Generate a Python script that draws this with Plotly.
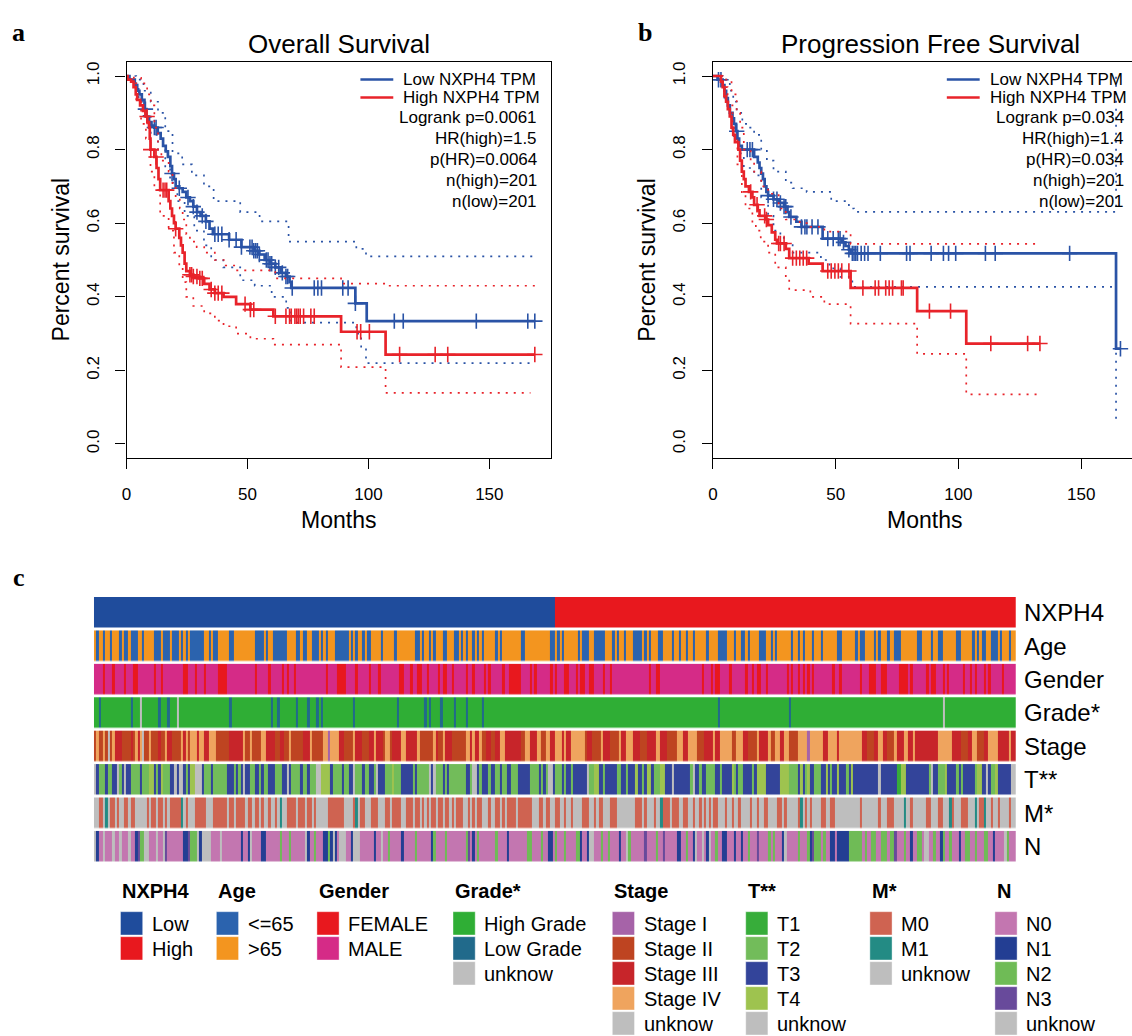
import plotly.graph_objects as go

# ---------------- Kaplan-Meier data ----------------
# Overall survival, low NXPH4 (blue)
os_low_time = [0, 1.2, 3.4, 4.4, 5.3, 6.3, 7.4, 8.2, 9.3, 10.3, 11.5, 12.9, 14.1, 15.1, 16.2, 17.1, 18.1, 18.8, 19.6, 20.3,
               21.8, 23.2, 24.7, 26.2, 27.6, 29.1, 30.6, 32.8, 34.3, 35.7, 42.4, 47.5, 52.6, 54.9, 57.1, 59.3, 61.5, 63.7, 65.9, 67.4,
               68.1, 94.6, 99.3]
os_low_surv = [1.0, 0.99, 0.975, 0.96, 0.95, 0.935, 0.91, 0.89, 0.875, 0.865, 0.86, 0.845, 0.83, 0.81, 0.795, 0.78, 0.755, 0.735, 0.72, 0.70,
               0.695, 0.685, 0.67, 0.66, 0.645, 0.63, 0.62, 0.605, 0.585, 0.57, 0.555, 0.535, 0.525, 0.515, 0.50, 0.49, 0.48, 0.465, 0.455, 0.44,
               0.424, 0.382, 0.334]
os_low_censor = [7.8, 11.5, 12.2, 18.8, 21.8, 25.4, 27.6, 29.1, 31.3, 32.8, 36.5, 37.9, 39.4, 42.4, 45.3, 47.5, 51.0, 51.9, 52.6, 53.4,
                 54.1, 54.9, 57.8, 58.5, 59.3, 60.0, 61.5, 62.9, 64.4, 65.9, 66.6, 68.5, 77.6, 79.1, 80.6, 89.4, 91.6, 94.6, 110.7, 114.4,
                 144.6, 165.9, 168.8]
os_low_upper_time = [0, 4, 7, 10, 13, 16, 19, 23, 27, 32, 36, 47, 55, 67, 95, 99]
os_low_upper_surv = [1.0, 0.99, 0.96, 0.93, 0.90, 0.85, 0.79, 0.76, 0.73, 0.70, 0.66, 0.63, 0.605, 0.55, 0.53, 0.51]
os_low_lower_time = [0, 2, 5, 7, 10, 13, 16, 18, 21, 24, 28, 32, 35, 40, 47, 53, 60, 66, 68, 95, 97, 99]
os_low_lower_surv = [1.0, 0.98, 0.93, 0.89, 0.84, 0.80, 0.75, 0.71, 0.66, 0.62, 0.58, 0.54, 0.50, 0.48, 0.445, 0.43, 0.40, 0.37, 0.33, 0.30, 0.26, 0.22]

# Overall survival, high NXPH4 (red)
os_high_time = [0, 0.4, 1.9, 2.9, 3.8, 4.4, 5.6, 6.8, 7.8, 8.6, 9.3, 9.6, 9.9, 11.5, 12.4, 13.2, 13.9, 17.4, 18.1, 18.8,
                19.6, 20.3, 21.8, 22.5, 23.2, 24.0, 24.7, 26.2, 27.6, 29.9, 32.1, 34.3, 36.5, 40.1, 45.3, 51.2, 60.7, 88.7, 107.1]
os_high_surv = [1.0, 0.99, 0.985, 0.97, 0.95, 0.935, 0.92, 0.905, 0.89, 0.875, 0.86, 0.83, 0.80, 0.78, 0.75, 0.72, 0.69, 0.66, 0.64, 0.62,
                0.60, 0.585, 0.56, 0.54, 0.52, 0.49, 0.47, 0.46, 0.455, 0.45, 0.435, 0.42, 0.41, 0.40, 0.38, 0.365, 0.347, 0.305, 0.243]
os_high_censor = [8.5, 10.0, 12.2, 15.1, 15.9, 16.6, 20.3, 26.2, 26.9, 27.6, 29.1, 30.3, 31.3, 35.0, 36.5, 37.9, 39.4, 49.0, 51.2, 52.6,
                  61.5, 65.9, 67.4, 68.1, 69.6, 70.3, 71.0, 71.8, 73.2, 76.2, 77.6, 95.3, 96.8, 100.4, 112.9, 127.6, 132.8, 168.8]
os_high_upper_time = [0, 3, 6, 8.5, 10, 11.5, 13, 14.4, 17.4, 19, 20.3, 22, 23.2, 24.7, 26.2, 29, 32.1, 36.5, 41, 45.3, 61.5, 88.7, 107.1]
os_high_upper_surv = [1.0, 0.995, 0.98, 0.95, 0.92, 0.86, 0.80, 0.77, 0.74, 0.70, 0.67, 0.64, 0.61, 0.57, 0.55, 0.535, 0.52, 0.50, 0.485, 0.472, 0.45, 0.436, 0.43]
os_high_lower_time = [0, 2, 4, 6, 8, 9.9, 11.5, 13.9, 17.4, 19.6, 21.8, 23.2, 24.7, 27.6, 32.1, 36.5, 40.1, 45.3, 51.2, 60.7, 88.7, 107.1]
os_high_lower_surv = [1.0, 0.98, 0.93, 0.87, 0.83, 0.74, 0.70, 0.62, 0.58, 0.52, 0.48, 0.44, 0.40, 0.375, 0.355, 0.335, 0.32, 0.30, 0.286, 0.27, 0.209, 0.139]

# Progression free survival, low NXPH4 (blue)
pfs_low_time = [0, 1.9, 4.0, 4.7, 5.4, 6.1, 6.9, 8.0, 8.6, 9.4, 10.0, 10.7, 11.8, 16.8, 18.3, 19.0, 19.7, 20.4, 21.1, 21.8,
                22.5, 24.7, 26.8, 29.0, 30.4, 31.1, 34.0, 36.1, 44.7, 52.5, 54.0, 55.4, 56.1, 164.2]
pfs_low_surv = [1.0, 0.99, 0.975, 0.96, 0.94, 0.92, 0.90, 0.885, 0.87, 0.85, 0.83, 0.81, 0.80, 0.78, 0.765, 0.75, 0.735, 0.72, 0.70, 0.685,
                0.675, 0.665, 0.655, 0.645, 0.63, 0.617, 0.604, 0.59, 0.558, 0.548, 0.538, 0.528, 0.518, 0.259]
pfs_low_censor = [2.3, 3.3, 9.7, 14.0, 15.1, 16.1, 22.5, 24.7, 26.1, 27.5, 29.0, 29.7, 31.8, 36.1, 37.5, 38.3, 40.4, 42.8, 46.8, 49.0,
                  51.1, 51.8, 53.2, 55.4, 56.8, 57.5, 58.2, 58.9, 60.4, 61.8, 63.2, 68.2, 78.9, 80.3, 88.9, 93.9, 96.0, 98.9, 111.0, 115.0,
                  145.3, 166.0]
pfs_low_upper_time = [0, 4, 6.9, 8.3, 9.7, 12, 14, 16.8, 19.7, 22, 24.7, 29.7, 32.5, 38.2, 48.2, 55.4, 57.5, 164.2]
pfs_low_upper_surv = [1.0, 0.99, 0.96, 0.93, 0.90, 0.87, 0.86, 0.84, 0.80, 0.77, 0.74, 0.71, 0.695, 0.685, 0.66, 0.64, 0.631, 1.0]
pfs_low_lower_time = [0, 2.3, 4.7, 6.9, 8.6, 10.4, 12.6, 16.8, 19.7, 22.5, 24.7, 27.5, 29.7, 32.5, 44.0, 47.5, 52.0, 56.8, 164.2]
pfs_low_lower_surv = [1.0, 0.98, 0.93, 0.88, 0.83, 0.79, 0.75, 0.73, 0.67, 0.62, 0.58, 0.56, 0.545, 0.52, 0.50, 0.477, 0.454, 0.427, 0.064]

# Progression free survival, high NXPH4 (red)
pfs_high_time = [0, 3.3, 4.0, 4.7, 5.4, 6.1, 6.9, 7.6, 8.3, 9.0, 10.4, 11.1, 11.8, 12.6, 13.3, 14.7, 16.1, 16.8, 18.3, 19.0,
                 21.8, 22.5, 24.0, 25.4, 26.1, 29.7, 31.1, 39.0, 44.7, 56.1, 83.2, 103.2]
pfs_high_surv = [1.0, 0.985, 0.97, 0.945, 0.93, 0.91, 0.89, 0.86, 0.84, 0.82, 0.80, 0.77, 0.74, 0.72, 0.70, 0.685, 0.67, 0.65, 0.635, 0.62,
                 0.61, 0.595, 0.575, 0.555, 0.545, 0.53, 0.505, 0.49, 0.47, 0.424, 0.361, 0.273]
pfs_high_censor = [15.4, 18.0, 21.1, 21.8, 26.8, 27.5, 29.0, 32.5, 34.0, 35.4, 36.8, 38.2, 46.8, 48.2, 49.7, 51.1, 52.5, 55.4, 61.1, 66.1,
                   67.5, 70.4, 71.8, 73.2, 76.8, 77.5, 88.2, 96.8, 113.2, 128.2, 133.2]
pfs_high_upper_time = [0, 5.4, 7.6, 9.7, 11.1, 12.6, 15.4, 16.8, 19.7, 22.5, 26.8, 29.7, 35.4, 39.7, 45.4, 56.1]
pfs_high_upper_surv = [1.0, 0.99, 0.95, 0.90, 0.86, 0.80, 0.77, 0.74, 0.70, 0.68, 0.64, 0.61, 0.60, 0.59, 0.577, 0.544]
pfs_high_lower_time = [0, 4, 6, 8, 10, 11.8, 13.3, 16.1, 17.5, 19.5, 22.5, 25.4, 29.7, 31.1, 39.7, 45.4, 56.1, 83.2, 103.2]
pfs_high_lower_surv = [1.0, 0.97, 0.92, 0.84, 0.76, 0.68, 0.64, 0.60, 0.58, 0.55, 0.52, 0.48, 0.45, 0.418, 0.40, 0.38, 0.327, 0.245, 0.135]

os_stats = ["Logrank p=0.0061", "HR(high)=1.5", "p(HR)=0.0064", "n(high)=201", "n(low)=201"]
pfs_stats = ["Logrank p=0.034", "HR(high)=1.4", "p(HR)=0.034", "n(high)=201", "n(low)=201"]
group_names = ["Low NXPH4 TPM", "High NXPH4 TPM"]
x_ticks = [0, 50, 100, 150]
y_ticks = [0.0, 0.2, 0.4, 0.6, 0.8, 1.0]
y_tick_text = ["0.0", "0.2", "0.4", "0.6", "0.8", "1.0"]

# ---------------- Heatmap annotation data (run-length, 4 segments per row) ----------------
n_low = 201
n_high = 201
row_names = ["NXPH4", "Age", "Gender", "Grade*", "Stage", "T**", "M*", "N"]

age_runs = [
    "O1 Y1 O2 Y1 O2 Y1 O3 Y1 O1 Y2 O1 Y3 O2 Y1 O4 Y3 O1 Y3 O1 Y3 O1 Y1 O1 Y1 O1 Y6 O2 Y1 O1 Y2 O5 Y2 O9 Y4 O1 Y1 O2 Y6 O4 Y2 O1 Y2 O2 Y3 O1 Y1 O1 Y2 O1",
    "O3 Y6 O1 Y1 O1 Y1 O2 Y1 O1 Y2 O4 Y1 O5 Y1 O8 Y2 O1 Y1 O2 Y1 O1 Y1 O3 Y2 O3 Y2 O1 Y1 O1 Y1 O2 Y1 O1 Y1 O1 Y1 O5 Y1 O1 Y1 O8 Y2 O11 Y2 O1 Y1 O2 Y1",
    "Y1 O6 Y1 O1 Y3 O2 Y5 O3 Y1 O1 Y1 O2 Y1 O3 Y4 O1 Y1 O1 Y1 O3 Y2 O4 Y1 O2 Y1 O2 Y1 O2 Y1 O5 Y1 O4 Y4 O3 Y1 O2 Y2 O1 Y1 O4 Y3 O2 Y1 O1 Y1 O6 Y1 O2",
    "O1 Y1 O1 Y1 O3 Y1 O3 Y1 O6 Y2 O6 Y1 O1 Y2 O4 Y1 O1 Y1 O3 Y1 O2 Y3 O7 Y2 O4 Y1 O2 Y2 O6 Y2 O5 Y1 O1 Y1 O1 Y2 O2 Y3 O1 Y1 O3 Y1 O3",
]
gender_runs = [
    "M4 F1 M3 F1 M4 F1 M3 F2 M7 F1 M2 F1 M9 F2 M3 F1 M3 F1 M5 F4 M12 F1 M5 F1 M5 F1 M1 F1 M2 F1 M13 F1 M2",
    "M4 F4 M4 F1 M5 F1 M3 F1 M8 F2 M3 F1 M2 F2 M2 F1 M4 F1 M1 F2 M2 F1 M5 F1 M2 F1 M4 F1 M1 F1 M5 F1 M2 F5 M4 F1 M1 F1 M6 F1 M1 F1 M3",
    "M1 F2 M3 F1 M1 F2 M2 F2 M4 F1 M2 F1 M16 F1 M2 F2 M18 F1 M3 F1 M1 F2 M4 F1 M6 F1 M2 F1 M1 F2 M2 F1 M8 F1 M1 F1 M1",
    "M1 F1 M1 F1 M1 F1 M1 F1 M8 F1 M2 F1 M8 F1 M3 F3 M2 F3 M5 F4 M1 F1 M6 F1 M1 F2 M3 F1 M1 F1 M6 F1 M2 F1 M1 F1 M3 F1 M1 F1 M5 F1 M6",
]
grade_runs = [
    "G2 L1 G13 L1 G3 U1 G7 L1 G3 L1 G3 U1 G22 L1 G17 L1 G2 L1 G7 L1 G4 L1 G3 L1 G1 L1 G4",
    "G11 L1 G18 L1 G11 L1 G1 L1 G4 L1 G5 L1 G4 L1 G6 L1 G35",
    "G68 L1 G30 L1 G2",
    "G64 U1 G31",
]
stage_runs = [
    "21 41 22 41 21 U1 21 41 33 24 31 21 41 31 41 U1 22 41 23 31 22 41 32 24 41 31 41 21 43 31 42 32 43 26 36 41 22 41 24 42 34 22 32 22 41 25 33 41 25 42",
    "11 44 32 24 41 33 23 32 41 33 21 42 21 34 42 35 41 26 41 31 22 41 33 26 42 31 41 32 41 22 32 22 32 42 37 22 42 33 42 22 42 32 41",
    "31 41 32 46 21 32 24 41 33 24 41 32 43 33 23 34 42 33 24 43 32 44 23 34 41 32 45 22 43 32 24 41 34 41 22 42 32 42 23",
    "21 44 11 46 32 44 31 410 32 23 32 42 32 23 41 33 42 32 41 32 38 46 34 23 32 42 23 32 44 35 41 32",
]
t_runs = [
    "U1 31 23 31 22 32 U1 21 31 U1 32 24 31 23 42 31 21 31 41 23 32 U1 31 U2 31 21 31 42 U3 31 23 31 26 33 21 31 21 31 U1 32 22 32 21 31 22 33 23 32 U1 31 24 31 22 31 23 U2 43",
    "41 31 24 31 22 32 U1 23 31 22 32 21 U1 33 23 41 23 35 21 31 25 U1 31 U1 23 31 21 31 27 32 21 U2 31 21 33 21 32 22 31 22 32 23 35 24 31 21 31 21 U2 31 23",
    "31 21 32 21 36 U1 22 42 32 21 35 22 32 21 33 41 32 21 31 42 31 23 42 33 U1 37 21 U1 32 21 32 24 32 21 34 41 21 31 22 34 21 31 44 36 44 24",
    "21 31 41 31 21 41 32 23 32 41 31 21 32 41 33 21 31 41 311 U1 37 12 42 310 21 U1 32 23 41 34 21 31 21 35 21 42 32 U1 31 22 41 36 U1",
]
m_runs = [
    "U2 02 U1 11 U1 02 U1 01 U2 02 U1 02 U5 01 U1 02 U1 02 U1 01 U1 05 11 U1 01 U3 05 U3 06 U1 02 U1 04 U1 02 U1 02 U1 01 U2 01 U2 01 U1 11 U2 04 U1 03 U1 02 U1 01 U4",
    "07 U4 01 11 U1 02 U3 03 U3 02 U1 04 U2 03 U1 02 U1 01 U1 01 U1 02 U1 02 U1 02 U1 01 U1 03 U2 01 U1 01 U1 02 U3 01 U2 02 U1 01 U1 04 U1 06 U3 02 U1 02 U2 02 U1",
    "U1 01 U2 01 U4 03 U2 01 U1 02 U3 03 U8 03 U1 01 U3 01 U2 11 03 U1 03 U2 02 U2 01 U2 01 U1 01 U1 01 U1 02 U3 01 U2 01 U2 01 U4 01 U2 01 U2 02 U4 02 U1 01 U2",
    "U1 01 11 U1 01 U1 01 U4 02 U2 02 U11 01 U7 01 U3 03 U4 11 U2 01 U6 02 U3 02 U3 11 01 U3 03 U3 11 U1 02 11 U2 01 U2 01 U4 01 U1",
]
n_runs = [
    "U1 11 02 U1 03 U1 02 U1 03 U1 02 11 31 22 U2 03 U1 02 U1 31 07 12 31 23 U1 11 U4 04 U1 08 11 02 11 U1 04 12 06 21 03 21 06 U1 11 02 21 03 12",
    "21 11 U1 11 01 U3 02 11 U3 06 11 02 U1 02 21 05 11 05 21 06 11 21 04 21 08 21 31 01 11 01 21 07 21 04 11 08 22 04 21 02 12 01 21 01",
    "01 21 04 22 11 02 11 U2 03 21 02 21 04 11 02 U1 21 06 31 04 21 02 31 05 12 02 21 02 11 U1 02 U1 01 11 U1 02 21 02 12 03 11 02 11 02 21 03 31 04 21 01 21 03 11 U1 04",
    "01 21 03 21 11 31 23 01 21 02 12 01 15 26 01 21 02 22 02 23 01 22 31 03 21 02 11 02 22 01 U2 02 21 02 11 21 02 21 03 11 02 22 02 21 03 22 02 11 04 U1 21 01",
]

# category symbols used in the run strings, in legend order
nxph4_symbols = ["L", "H"]
age_symbols = ["Y", "O"]
gender_symbols = ["F", "M"]
grade_symbols = ["G", "L", "U"]
stage_symbols = ["1", "2", "3", "4", "U"]
t_symbols = ["1", "2", "3", "4", "U"]
m_symbols = ["0", "1", "U"]
n_symbols = ["0", "1", "2", "3", "U"]

legend_titles = ["NXPH4", "Age", "Gender", "Grade*", "Stage", "T**", "M*", "N"]
legend_labels = [
    ["Low", "High"],
    ["<=65", ">65"],
    ["FEMALE", "MALE"],
    ["High Grade", "Low Grade", "unknow"],
    ["Stage I", "Stage II", "Stage III", "Stage IV", "unknow"],
    ["T1", "T2", "T3", "T4", "unknow"],
    ["M0", "M1", "unknow"],
    ["N0", "N1", "N2", "N3", "unknow"],
]
legend_colors = [
    ["#1f4c9c", "#e8181e"],
    ["#2b63ae", "#f3951f"],
    ["#e8181e", "#d52b87"],
    ["#2fae35", "#216a8b", "#bebebe"],
    ["#a663a8", "#be4421", "#c7252a", "#efa45e", "#bebebe"],
    ["#37ad3a", "#72bc5a", "#33449a", "#9ec34f", "#bebebe"],
    ["#cf6351", "#238b84", "#bebebe"],
    ["#c376b0", "#233e93", "#6fbb56", "#684a9b", "#bebebe"],
]

# ---------------- helpers ----------------
W, H = 1132, 1036
FONT = "Liberation Sans, Arial, sans-serif"
BLUE = "#2a53a6"
RED = "#e8232a"
SEG_COLS = [102, 102, 102, 96]


def px(x):
    return x / W


def py(y):
    return 1 - y / H


def expand(rle):
    out = []
    for tok in rle.split():
        out += [tok[0]] * int(tok[1:])
    return out


def build_row(segs):
    row = []
    for s, n in zip(segs, SEG_COLS):
        e = expand(s)
        e = e[:n] + [e[-1]] * max(0, n - len(e))
        row += e
    return row


def step_val(times, surv, t):
    v = surv[0]
    for tt, s in zip(times, surv):
        if tt <= t:
            v = s
        else:
            break
    return v


fig = go.Figure()


def add_km(times, surv, censor, up_t, up_s, lo_t, lo_s, lo_end, color, xa, ya):
    end = censor[-1]
    for bt, bs, be in ((up_t, up_s, end), (lo_t, lo_s, lo_end)):
        fig.add_trace(go.Scatter(x=bt + [be], y=bs + [bs[-1]], mode="lines",
                                 line=dict(color=color, width=1.7, dash="2px,6px", shape="hv"),
                                 xaxis=xa, yaxis=ya, showlegend=False, hoverinfo="skip"))
    fig.add_trace(go.Scatter(x=times + [end], y=surv + [surv[-1]], mode="lines",
                             line=dict(color=color, width=2.7, shape="hv"),
                             xaxis=xa, yaxis=ya, showlegend=False, hoverinfo="skip"))
    cy = [step_val(times, surv, t) for t in censor]
    fig.add_trace(go.Scatter(x=censor, y=cy, mode="markers",
                             marker=dict(symbol="cross-thin", size=11, line=dict(color=color, width=1.6)),
                             xaxis=xa, yaxis=ya, showlegend=False, hoverinfo="skip"))


add_km(os_low_time, os_low_surv, os_low_censor, os_low_upper_time, os_low_upper_surv,
       os_low_lower_time, os_low_lower_surv, 168.8, BLUE, "x", "y")
add_km(os_high_time, os_high_surv, os_high_censor, os_high_upper_time, os_high_upper_surv,
       os_high_lower_time, os_high_lower_surv, 167.0, RED, "x", "y")
add_km(pfs_low_time, pfs_low_surv, pfs_low_censor, pfs_low_upper_time, pfs_low_upper_surv,
       pfs_low_lower_time, pfs_low_lower_surv, 165.3, BLUE, "x2", "y2")
add_km(pfs_high_time, pfs_high_surv, pfs_high_censor, pfs_high_upper_time, pfs_high_upper_surv,
       pfs_high_lower_time, pfs_high_lower_surv, 133.2, RED, "x2", "y2")

# ---------------- heatmap ----------------
rows_symbols = [
    ["L"] * n_low + ["H"] * n_high,
    build_row(age_runs),
    build_row(gender_runs),
    build_row(grade_runs),
    build_row(stage_runs),
    build_row(t_runs),
    build_row(m_runs),
    build_row(n_runs),
]
symbol_sets = [nxph4_symbols, age_symbols, gender_symbols, grade_symbols, stage_symbols, t_symbols, m_symbols, n_symbols]

for r, (syms, symset, cols) in enumerate(zip(rows_symbols, symbol_sets, legend_colors)):
    codes = [symset.index(s) for s in syms]
    n = len(cols)
    cs = []
    for k, c in enumerate(cols):
        cs.append([k / n, c])
        cs.append([(k + 1) / n, c])
    fig.add_trace(go.Heatmap(z=[codes], x=list(range(len(codes))), y=[r], colorscale=cs,
                             zmin=-0.5, zmax=n - 0.5, showscale=False, ygap=2.5,
                             xaxis="x3", yaxis="y3", hoverinfo="skip"))

# ---------------- axes ----------------
ax = dict(showline=True, linecolor="black", linewidth=1.3, ticks="outside", ticklen=10, tickwidth=1.3,
          tickcolor="black", showgrid=False, zeroline=False,
          tickfont=dict(family=FONT, size=17, color="black"))
Y_TOP, Y_BOT = 61.7, 458.0
fig.update_layout(
    width=W, height=H, autosize=False, margin=dict(l=0, r=0, t=0, b=0),
    paper_bgcolor="white", plot_bgcolor="white", showlegend=False,
    xaxis=dict(domain=[px(122.1), px(548.2)], range=[0, 175.4], tickvals=x_ticks, mirror=True,
               anchor="y", ticklabelstandoff=10, **ax),
    yaxis=dict(domain=[py(Y_BOT), py(Y_TOP)], range=[-0.0381, 1.0389], tickvals=y_ticks, ticktext=y_tick_text,
               tickangle=-90, mirror=True, anchor="x", ticklabelstandoff=10, **ax),
    xaxis2=dict(domain=[px(711), 1.0], range=[0, 170.7], tickvals=x_ticks, mirror=True,
                anchor="y2", ticklabelstandoff=10, **ax),
    yaxis2=dict(domain=[py(Y_BOT), py(Y_TOP)], range=[-0.0381, 1.0389], tickvals=y_ticks, ticktext=y_tick_text,
                tickangle=-90, mirror=False, anchor="x2", ticklabelstandoff=10, **ax),
    xaxis3=dict(domain=[px(89.3), px(1015.3)], range=[-0.5, 401.5], visible=False, anchor="y3"),
    yaxis3=dict(domain=[py(863.3), py(596)], range=[7.5, -0.5], visible=False, anchor="x3"),
)

annotations = []
shapes = []


def txt(x, y, s, size, xanchor="center", bold=False, family=FONT, angle=0):
    annotations.append(dict(x=px(x), y=py(y), xref="paper", yref="paper", text=("<b>%s</b>" % s) if bold else s,
                            showarrow=False, xanchor=xanchor, yanchor="middle", textangle=angle,
                            font=dict(family=family, size=size, color="black")))


# panel letters
txt(14, 33, "a", 26, bold=True, family="Liberation Serif, Times New Roman, serif")
txt(643, 33, "b", 26, bold=True, family="Liberation Serif, Times New Roman, serif")
txt(14, 577, "c", 26, bold=True, family="Liberation Serif, Times New Roman, serif")

# KM titles and axis titles
txt(335, 44, "Overall Survival", 26)
txt(930, 44, "Progression Free Survival", 26)
txt(335, 520, "Months", 23)
txt(924, 520, "Months", 23)
txt(56, 259.7, "Percent survival", 23, angle=-90)
txt(645, 259.7, "Percent survival", 23, angle=-90)

# KM legends
for (lx0, lx1, tx_left, tx_right, stats) in ((357, 390, 398, 536, os_stats), (946, 979, 987, 1126, pfs_stats)):
    for name, col, yy in zip(group_names, [BLUE, RED], [79.5, 97.5]):
        shapes.append(dict(type="line", xref="paper", yref="paper", x0=px(lx0), x1=px(lx1), y0=py(yy), y1=py(yy),
                           line=dict(color=col, width=2.7)))
        txt(tx_left, yy, name, 17, xanchor="left")
    for s, yy in zip(stats, [117.7, 138.5, 159.3, 180.2, 201]):
        txt(tx_right, yy, s, 17, xanchor="right")

# heatmap row labels
for r, name in enumerate(row_names):
    txt(1021.5, 596 + (863.3 - 596) / 8 * (r + 0.5), name, 24, xanchor="left")

# heatmap legend
LEG_SQ_X = [116, 212.3, 313.3, 450, 610, 744, 868.7, 994.3]
for gx, title, labels, cols in zip(LEG_SQ_X, legend_titles, legend_labels, legend_colors):
    txt(gx, 891, title, 20, xanchor="left", bold=True)
    for k, (lab, c) in enumerate(zip(labels, cols)):
        y0 = 911.7 + 25 * k
        shapes.append(dict(type="rect", xref="paper", yref="paper", x0=px(gx), x1=px(gx + 22.3),
                           y0=py(y0 + 23.3), y1=py(y0), fillcolor=c,
                           line=dict(color="rgba(255,255,255,0.5)", width=0.8)))
        txt(gx + 29.5, y0 + 11.8, lab, 20, xanchor="left")

fig.update_layout(annotations=annotations, shapes=shapes)

fig.write_html("out.html", config={"displayModeBar": False},
               post_script="document.body.style.margin='0';")
